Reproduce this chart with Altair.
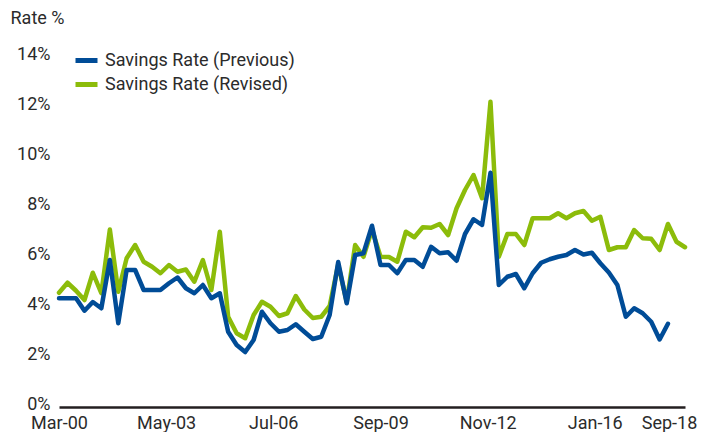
import altair as alt
import pandas as pd

# Quarterly observations, Mar-2000 .. Sep-2018
quarters = pd.date_range(start="2000-03-01", periods=75, freq="3MS").strftime("%Y/%m/%d").tolist()

previous = [
    4.35, 4.35, 4.35, 3.85, 4.20, 3.95, 5.88, 3.35, 5.48, 5.48,
    4.68, 4.68, 4.68, 4.95, 5.18, 4.75, 4.55, 4.88, 4.35, 4.55,
    3.01, 2.48, 2.20, 2.68, 3.81, 3.35, 3.01, 3.08, 3.31, 3.01,
    2.72, 2.81, 3.68, 5.80, 4.15, 6.08, 6.15, 7.25, 5.68, 5.68,
    5.35, 5.88, 5.88, 5.61, 6.41, 6.15, 6.19, 5.85, 6.92, 7.51,
    7.28, 9.37, 4.88, 5.21, 5.32, 4.75, 5.35, 5.77, 5.91, 6.01,
    6.08, 6.28, 6.10, 6.17, 5.75, 5.38, 4.88, 3.61, 3.95, 3.75,
    3.41, 2.70, 3.33,
]

revised = [
    4.57, 4.97, 4.65, 4.28, 5.37, 4.55, 7.10, 4.61, 5.95, 6.48,
    5.81, 5.61, 5.35, 5.68, 5.41, 5.50, 5.01, 5.88, 4.68, 7.01,
    3.61, 2.95, 2.75, 3.68, 4.21, 4.01, 3.64, 3.75, 4.44, 3.90,
    3.56, 3.61, 4.04, 5.70, 4.20, 6.48, 6.01, 7.10, 6.01, 6.00,
    5.81, 7.01, 6.79, 7.19, 7.17, 7.32, 6.88, 7.95, 8.68, 9.28,
    8.35, 12.21, 6.01, 6.92, 6.92, 6.48, 7.55, 7.55, 7.55, 7.75,
    7.55, 7.75, 7.84, 7.45, 7.61, 6.28, 6.39, 6.39, 7.08, 6.75,
    6.73, 6.28, 7.32, 6.61, 6.39,
]

series_names = ["Savings Rate (Previous)", "Savings Rate (Revised)"]
series_colors = ["#004C97", "#8CBC0A"]

tick_dates = [(2000, 3), (2003, 5), (2006, 7), (2009, 9), (2012, 11), (2016, 1), (2018, 9)]
y_ticks = [0, 2, 4, 6, 8, 10, 12, 14]

df_prev = pd.DataFrame({"date": quarters[: len(previous)], "rate": previous, "series": series_names[0]})
df_rev = pd.DataFrame({"date": quarters[: len(revised)], "rate": revised, "series": series_names[1]})

FONT = "Roboto"
TXT = "#2b2b2b"
FS = 18

color_scale = alt.Scale(domain=series_names, range=series_colors)

x_enc = alt.X(
    "date:T",
    scale=alt.Scale(domain=[alt.DateTime(year=2000, month=3, date=1), alt.DateTime(year=2018, month=9, date=1)]),
    axis=alt.Axis(
        title=None,
        values=[alt.DateTime(year=y, month=m, date=1) for y, m in tick_dates],
        format="%b-%y",
        grid=False,
        ticks=False,
        domain=True,
        domainColor="#231F20",
        domainWidth=2.5,
        labelFont=FONT,
        labelFontSize=FS,
        labelColor=TXT,
        labelPadding=7,
        labelFlush=False,
        labelOverlap=False,
        labelOffset={"condition": {"test": "year(datum.value) == 2018", "value": -16}, "value": 0},
    ),
)

y_enc = alt.Y(
    "rate:Q",
    scale=alt.Scale(domain=[0, 14], nice=False),
    axis=alt.Axis(
        title="Rate %",
        titleAngle=0,
        titleAlign="left",
        titleBaseline="middle",
        titleX=-49,
        titleY=-39,
        titleFont=FONT,
        titleFontSize=FS,
        titleFontWeight="normal",
        titleColor=TXT,
        values=y_ticks,
        labelExpr="datum.value + '%'",
        grid=False,
        ticks=False,
        domain=False,
        labelFont=FONT,
        labelFontSize=FS,
        labelColor=TXT,
        labelPadding=9,
        labelOffset=-3,
    ),
)

color_enc = alt.Color(
    "series:N",
    scale=color_scale,
    legend=alt.Legend(
        title=None,
        orient="none",
        legendX=14,
        legendY=-10,
        symbolType="stroke",
        symbolSize=484,
        symbolStrokeWidth=5,
        labelFont=FONT,
        labelFontSize=FS,
        labelColor=TXT,
        labelOffset=5,
        labelLimit=400,
        rowPadding=-2,
    ),
)

green = alt.Chart(df_rev).mark_line(strokeWidth=4.5, strokeJoin="round", strokeCap="round").encode(
    x=x_enc, y=y_enc, color=color_enc
)
blue = alt.Chart(df_prev).mark_line(strokeWidth=4.5, strokeJoin="round", strokeCap="round").encode(
    x=x_enc, y=y_enc, color=color_enc
)

chart = (
    alt.layer(green, blue)
    .properties(
        width=626,
        height=350,
        autosize=alt.AutoSizeParams(type="none"),
        padding={"left": 51, "top": 49, "right": 12, "bottom": 25},
    )
    .configure_view(stroke=None)
)

chart.save("out.html", embed_options={"renderer": "svg", "actions": False})
